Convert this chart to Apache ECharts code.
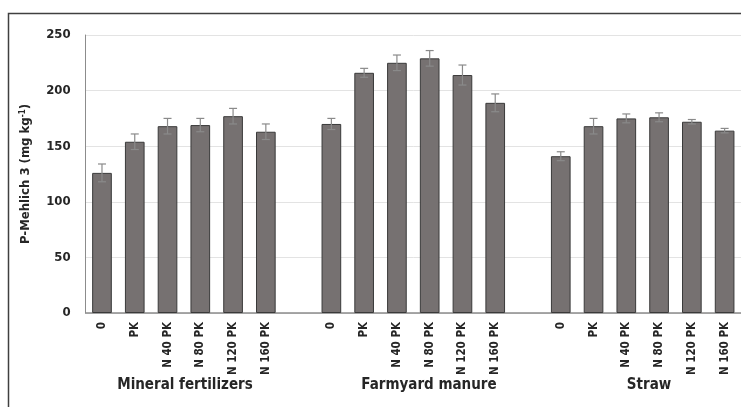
<!DOCTYPE html>
<html>
<head>
<meta charset="utf-8">
<title></title>
<script src="https://cdn.jsdelivr.net/npm/echarts@6/dist/echarts.min.js"></script>
<style>
	html, body { margin: 0; padding: 0; background: #fff; }
	#tubiao { width: 741px; height: 407px; }
</style>
</head>
<body>
<div id="tubiao"></div>
<script>
	// treatments, repeated in each group
	var labels = ['0', 'PK', 'N 40 PK', 'N 80 PK', 'N 120 PK', 'N 160 PK'];
	var groups = ['Mineral fertilizers', 'Farmyard manure', 'Straw'];

	// P-Mehlich 3 means and error
	var mineral = [126, 154, 168, 169, 177, 163];
	var mineralErr = [8, 7, 7, 6, 7, 7];
	var manure = [170, 216, 225, 229, 214, 189];
	var manureErr = [5, 4, 7, 7, 9, 8];
	var straw = [141, 168, 175, 176, 172, 164];
	var strawErr = [4, 7, 4, 4, 2, 2];

	var yTicks = [0, 50, 100, 150, 200, 250];

	// one empty slot between the groups
	var cats = labels.concat([''], labels, [''], labels);
	var vals = mineral.concat(['-'], manure, ['-'], straw);
	var errs = mineralErr.concat([0], manureErr, [0], strawErr);

	var errData = [];
	for (var i = 0; i < vals.length; i++) {
		if (vals[i] === '-') continue;
		errData.push([i, vals[i] - errs[i], vals[i] + errs[i]]);
	}

	var fnt = '"DejaVu Sans Condensed", Lato, sans-serif';
	var myChart = echarts.init(document.getElementById('tubiao'));
	myChart.setOption({
		animation: false,
		grid: { left: 85.6, right: 0, top: 35, bottom: 94, containLabel: false },
		xAxis: {
			type: 'category',
			data: cats,
			axisLine: { lineStyle: { color: '#8c8c8c', width: 1.5 } },
			axisTick: { show: false },
			axisLabel: {
				rotate: 90, interval: 0, margin: 9,
				color: '#262626', fontWeight: 'bold', fontSize: 11.5, fontFamily: fnt
			}
		},
		yAxis: {
			type: 'value',
			min: yTicks[0], max: yTicks[yTicks.length - 1], interval: 50,
			name: '{a|P-Mehlich 3 (mg kg}{s|-1}{a|)}',
			nameLocation: 'middle', nameGap: 52, nameRotate: 90,
			nameTextStyle: {
				rich: {
					a: { fontSize: 13, fontWeight: 'bold', color: '#262626', fontFamily: fnt },
					s: { fontSize: 8, fontWeight: 'bold', color: '#262626', fontFamily: fnt, padding: [0, 0, 7, 0] }
				}
			},
			axisLine: { show: true, lineStyle: { color: '#8c8c8c' } },
			axisTick: { show: false },
			splitLine: { lineStyle: { color: '#e3e3e3' } },
			axisLabel: {
				margin: 15, color: '#262626', fontWeight: 'bold', fontSize: 13, fontFamily: fnt
			}
		},
		graphic: [
			{ type: 'rect', shape: { x: 8.5, y: 13.5, width: 800, height: 500 },
				style: { fill: 'none', stroke: '#404040', lineWidth: 1.5 }, silent: true },
			{ type: 'text', x: 185, y: 385, style: { text: groups[0], align: 'center', verticalAlign: 'middle',
				font: 'bold 15px ' + fnt, fill: '#262626' } },
			{ type: 'text', x: 429, y: 385, style: { text: groups[1], align: 'center', verticalAlign: 'middle',
				font: 'bold 15px ' + fnt, fill: '#262626' } },
			{ type: 'text', x: 649, y: 385, style: { text: groups[2], align: 'center', verticalAlign: 'middle',
				font: 'bold 15px ' + fnt, fill: '#262626' } }
		],
		series: [
			{
				type: 'bar',
				data: vals,
				barWidth: '60%',
				itemStyle: { color: '#767171', borderColor: '#3a3a3a', borderWidth: 1 }
			},
			{
				type: 'custom',
				data: errData,
				z: 5,
				renderItem: function (params, api) {
					var x = api.value(0);
					var lo = api.coord([x, api.value(1)]);
					var hi = api.coord([x, api.value(2)]);
					var cap = 4;
					var st = { stroke: '#8a8a8a', lineWidth: 1.2 };
					return {
						type: 'group',
						children: [
							{ type: 'line', shape: { x1: hi[0], y1: hi[1], x2: lo[0], y2: lo[1] }, style: st },
							{ type: 'line', shape: { x1: hi[0] - cap, y1: hi[1], x2: hi[0] + cap, y2: hi[1] }, style: st },
							{ type: 'line', shape: { x1: lo[0] - cap, y1: lo[1], x2: lo[0] + cap, y2: lo[1] }, style: st }
						]
					};
				}
			}
		]
	});
</script>
</body>
</html>
